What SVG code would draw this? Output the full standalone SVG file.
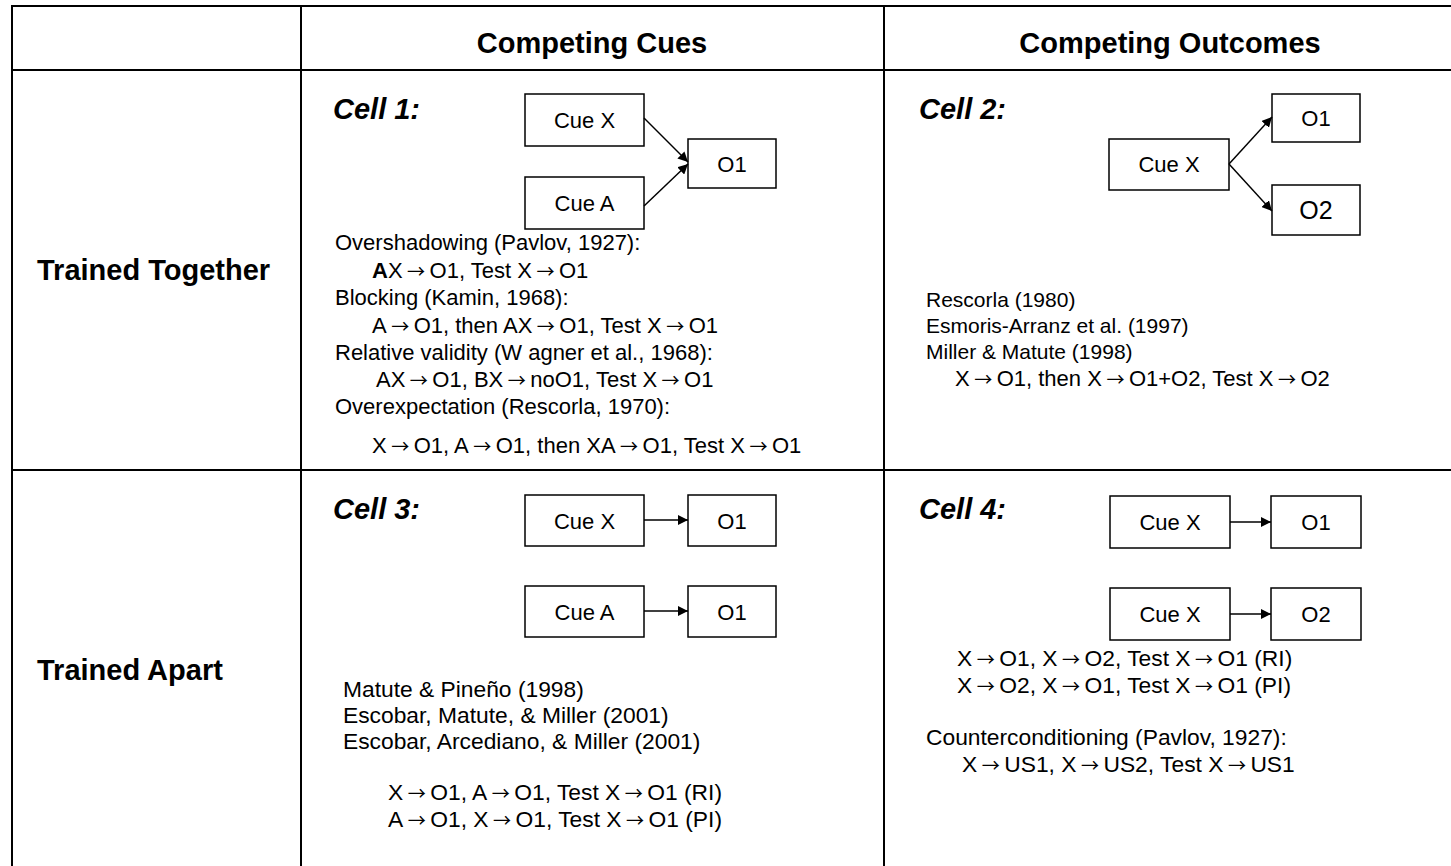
<svg xmlns="http://www.w3.org/2000/svg" width="1451" height="866" viewBox="0 0 1451 866">
<defs>
<style>
.t{font-family:"Liberation Sans",Arial,sans-serif;font-size:22px;fill:#000}
.t2{font-size:21px}
.t3{font-size:22.8px}
.a{font-family:"Noto Sans CJK JP","DejaVu Sans",sans-serif;font-weight:normal;font-size:18px;letter-spacing:4.5px}
.h{font-family:"Liberation Sans",Arial,sans-serif;font-size:29px;font-weight:bold;fill:#000}
.c{font-family:"Liberation Sans",Arial,sans-serif;font-size:29px;font-weight:bold;font-style:italic;fill:#000}
.bx{fill:#fff;stroke:#000;stroke-width:1.5}
.bt{font-family:"Liberation Sans",Arial,sans-serif;font-size:22px;fill:#000;text-anchor:middle}
.big{font-size:25px}
.grid{stroke:#000;stroke-width:2;fill:none}
.ed{stroke:#000;stroke-width:1.5;fill:none;marker-end:url(#ah)}
</style>
<marker id="ah" viewBox="0 0 10 10" refX="10" refY="5" markerWidth="10" markerHeight="10" markerUnits="userSpaceOnUse" orient="auto">
<path d="M0,0 L10,5 L0,10 z" fill="#000"/>
</marker>
</defs>
<rect width="1451" height="866" fill="#fff"/>
<g id="table">
<line class="grid" x1="11" y1="6" x2="1451" y2="6"/>
<line class="grid" x1="11" y1="70" x2="1451" y2="70"/>
<line class="grid" x1="11" y1="470" x2="1451" y2="470"/>
<line class="grid" x1="12" y1="5" x2="12" y2="866"/>
<line class="grid" x1="301" y1="5" x2="301" y2="866"/>
<line class="grid" x1="884" y1="5" x2="884" y2="866"/>
</g>
<g id="headers">
<text class="h" x="592" y="53" text-anchor="middle">Competing Cues</text>
<text class="h" x="1170" y="53" text-anchor="middle">Competing Outcomes</text>
<text class="h" x="37" y="280">Trained Together</text>
<text class="h" x="37" y="680">Trained Apart</text>
</g>
<g id="cell1">
<text class="c" x="333" y="119">Cell 1:</text>
<g id="c1-cuex"><rect class="bx" x="525" y="94" width="119" height="52"/><text class="bt" x="584.5" y="128">Cue X</text></g>
<g id="c1-cuea"><rect class="bx" x="525" y="177" width="119" height="52"/><text class="bt" x="584.5" y="211">Cue A</text></g>
<g id="c1-o1"><rect class="bx" x="688" y="139" width="88" height="49"/><text class="bt" x="732" y="172">O1</text></g>
<text class="t" x="335" y="250">Overshadowing (Pavlov, 1927):</text>
<text class="t" x="372" y="278"><tspan font-weight="bold">A</tspan>X<tspan class="a" dx="4.5">→</tspan>O1, Test X<tspan class="a" dx="4.5">→</tspan>O1</text>
<text class="t" x="335" y="305">Blocking (Kamin, 1968):</text>
<text class="t" x="372" y="333">A<tspan class="a" dx="4.5">→</tspan>O1, then AX<tspan class="a" dx="4.5">→</tspan>O1, Test X<tspan class="a" dx="4.5">→</tspan>O1</text>
<text class="t" x="335" y="360">Relative validity (W agner et al., 1968):</text>
<text class="t" x="376" y="387">AX<tspan class="a" dx="4.5">→</tspan>O1, BX<tspan class="a" dx="4.5">→</tspan>noO1, Test X<tspan class="a" dx="4.5">→</tspan>O1</text>
<text class="t" x="335" y="414">Overexpectation (Rescorla, 1970):</text>
<text class="t" x="372" y="453">X<tspan class="a" dx="4.5">→</tspan>O1, A<tspan class="a" dx="4.5">→</tspan>O1, then XA<tspan class="a" dx="4.5">→</tspan>O1, Test X<tspan class="a" dx="4.5">→</tspan>O1</text>
</g>
<g id="cell2">
<text class="c" x="919" y="119">Cell 2:</text>
<g id="c2-cuex"><rect class="bx" x="1109" y="139" width="120" height="51"/><text class="bt" x="1169" y="172">Cue X</text></g>
<g id="c2-o1"><rect class="bx" x="1272" y="94" width="88" height="48"/><text class="bt" x="1316" y="126">O1</text></g>
<g id="c2-o2"><rect class="bx" x="1272" y="185" width="88" height="50"/><text class="bt big" x="1316" y="219">O2</text></g>
<text class="t t2" x="926" y="307">Rescorla (1980)</text>
<text class="t t2" x="926" y="333">Esmoris-Arranz et al. (1997)</text>
<text class="t t2" x="926" y="359">Miller &amp; Matute (1998)</text>
<text class="t" x="955" y="386">X<tspan class="a" dx="4.5">→</tspan>O1, then X<tspan class="a" dx="4.5">→</tspan>O1+O2, Test X<tspan class="a" dx="4.5">→</tspan>O2</text>
</g>
<g id="cell3">
<text class="c" x="333" y="519">Cell 3:</text>
<g id="c3-cuex"><rect class="bx" x="525" y="495" width="119" height="51"/><text class="bt" x="584.5" y="529">Cue X</text></g>
<g id="c3-o1a"><rect class="bx" x="688" y="495" width="88" height="51"/><text class="bt" x="732" y="529">O1</text></g>
<g id="c3-cuea"><rect class="bx" x="525" y="586" width="119" height="51"/><text class="bt" x="584.5" y="620">Cue A</text></g>
<g id="c3-o1b"><rect class="bx" x="688" y="586" width="88" height="51"/><text class="bt" x="732" y="620">O1</text></g>
<text class="t t3" x="343" y="697">Matute &amp; Pineño (1998)</text>
<text class="t t3" x="343" y="723">Escobar, Matute, &amp; Miller (2001)</text>
<text class="t t3" x="343" y="749">Escobar, Arcediano, &amp; Miller (2001)</text>
<text class="t t3" x="388" y="800">X<tspan class="a" dx="4.5">→</tspan>O1, A<tspan class="a" dx="4.5">→</tspan>O1, Test X<tspan class="a" dx="4.5">→</tspan>O1 (RI)</text>
<text class="t t3" x="388" y="827">A<tspan class="a" dx="4.5">→</tspan>O1, X<tspan class="a" dx="4.5">→</tspan>O1, Test X<tspan class="a" dx="4.5">→</tspan>O1 (PI)</text>
</g>
<g id="cell4">
<text class="c" x="919" y="519">Cell 4:</text>
<g id="c4-cuex1"><rect class="bx" x="1110" y="496" width="120" height="52"/><text class="bt" x="1170" y="530">Cue X</text></g>
<g id="c4-o1"><rect class="bx" x="1271" y="496" width="90" height="52"/><text class="bt" x="1316" y="530">O1</text></g>
<g id="c4-cuex2"><rect class="bx" x="1110" y="588" width="120" height="52"/><text class="bt" x="1170" y="622">Cue X</text></g>
<g id="c4-o2"><rect class="bx" x="1271" y="588" width="90" height="52"/><text class="bt" x="1316" y="622">O2</text></g>
<text class="t t3" x="957" y="666">X<tspan class="a" dx="4.5">→</tspan>O1, X<tspan class="a" dx="4.5">→</tspan>O2, Test X<tspan class="a" dx="4.5">→</tspan>O1 (RI)</text>
<text class="t t3" x="957" y="693">X<tspan class="a" dx="4.5">→</tspan>O2, X<tspan class="a" dx="4.5">→</tspan>O1, Test X<tspan class="a" dx="4.5">→</tspan>O1 (PI)</text>
<text class="t t3" x="926" y="745">Counterconditioning (Pavlov, 1927):</text>
<text class="t t3" x="962" y="772">X<tspan class="a" dx="4.5">→</tspan>US1, X<tspan class="a" dx="4.5">→</tspan>US2, Test X<tspan class="a" dx="4.5">→</tspan>US1</text>
</g>
<g id="connectors">
<line class="ed" x1="644" y1="118" x2="688" y2="162"/>
<line class="ed" x1="644" y1="206" x2="688" y2="164"/>
<line class="ed" x1="1229" y1="164" x2="1272" y2="117"/>
<line class="ed" x1="1229" y1="164" x2="1272" y2="211"/>
<line class="ed" x1="644" y1="520" x2="688" y2="520"/>
<line class="ed" x1="644" y1="611" x2="688" y2="611"/>
<line class="ed" x1="1230" y1="522" x2="1271" y2="522"/>
<line class="ed" x1="1230" y1="614" x2="1271" y2="614"/>
</g>
</svg>
